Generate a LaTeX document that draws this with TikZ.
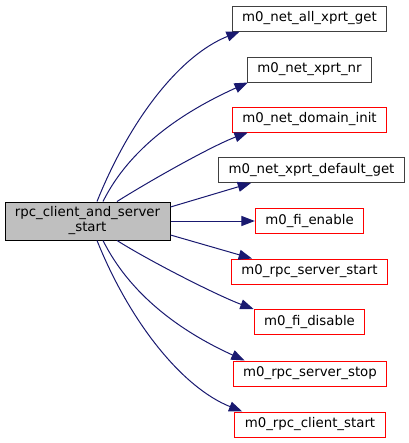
\documentclass[tikz,border=0pt]{standalone}
\usepackage{fontspec}
\setmainfont{DejaVu Sans}
\usepackage{xcolor}
\definecolor{edgeblue}{HTML}{191970}
\definecolor{rootgray}{HTML}{BFBFBF}
\definecolor{fnborder}{HTML}{404040}
\definecolor{fnred}{HTML}{FF0000}
\usepackage{tikz}
\usetikzlibrary{arrows.meta,calc}

\begin{document}
\begin{tikzpicture}[
  x=0.75pt,y=-0.75pt,
  root/.style ={rectangle,draw=black,fill=rootgray,line width=0.75pt,
                minimum width=123.75pt,minimum height=28.5pt,inner sep=0pt,
                align=center,font=\fontsize{10}{11.25}\selectfont},
  fn/.style   ={rectangle,draw=fnborder,fill=white,line width=0.75pt,
                minimum height=18.75pt,inner xsep=7.5pt,inner ysep=0pt,
                font=\fontsize{10}{12}\selectfont},
  fnext/.style={fn,draw=fnred},
  arr/.style  ={-{Triangle[length=10pt,width=7.5pt]},line width=0.75pt,edgeblue}
]
\useasboundingbox (0,0) rectangle (408,443);

\node[root] (main) at (87.5,221) {rpc\_client\_and\_server\\\_start};

\node[fn]    (allget)  at (309.5,18.5)  {m0\_net\_all\_xprt\_get};
\node[fn]    (xprtnr)  at (309.5,69.5)  {m0\_net\_xprt\_nr};
\node[fnext] (dominit) at (309.5,119.5) {m0\_net\_domain\_init};
\node[fn]    (defget)  at (311.5,170)   {m0\_net\_xprt\_default\_get};
\node[fnext] (fien)    at (309.5,221)   {m0\_fi\_enable};
\node[fnext] (srvstart) at (309.5,271.5) {m0\_rpc\_server\_start};
\node[fnext] (fidis)   at (309.5,322)   {m0\_fi\_disable};
\node[fnext] (srvstop) at (310,373.5)   {m0\_rpc\_server\_stop};
\node[fnext] (clistart) at (310,424.5)  {m0\_rpc\_client\_start};

% calls above the root
\draw[arr] ($(main.north)+(9.5,0)$)  .. controls +(33,-82) and +(-60,24) .. ($(allget.south west)+(8,0)$);
\draw[arr] ($(main.north)+(15.5,0)$) .. controls +(30,-60) and +(-55,25) .. ($(xprtnr.south west)+(1,0)$);
\draw[arr] ($(main.north)+(29.5,0)$) .. controls +(35,-22) and +(-35,13) .. ($(dominit.south west)+(16,0)$);
\draw[arr] ($(main.east)+(0,-14)$) -- ($(defget.south west)+(33,0)$);
\draw[arr] (main.east) -- (fien.west);
% calls below the root
\draw[arr] ($(main.east)+(0,14)$) -- ($(srvstart.north west)+(21,0)$);
\draw[arr] ($(main.south)+(29.5,0)$) .. controls +(35,22) and +(-35,-13) .. ($(fidis.north west)+(0,0)$);
\draw[arr] ($(main.south)+(15.5,0)$) .. controls +(30,60) and +(-55,-25) .. ($(srvstop.north west)+(12,0)$);
\draw[arr] ($(main.south)+(9.5,0)$)  .. controls +(33,82) and +(-60,-24) .. ($(clistart.north west)+(8,0)$);

\end{tikzpicture}
\end{document}
